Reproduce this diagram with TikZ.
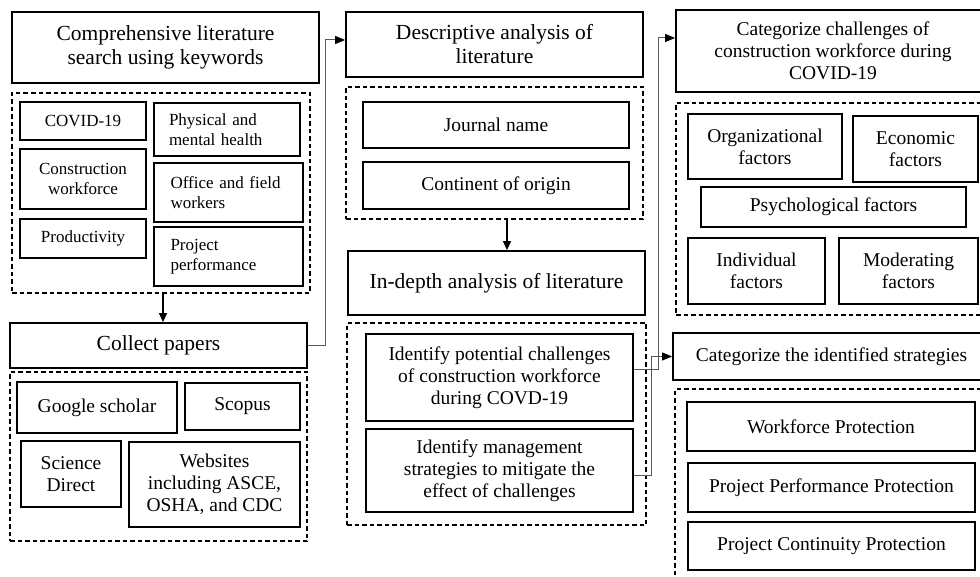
\documentclass[tikz,border=0pt]{standalone}
\usepackage{fontspec}
\setmainfont{Liberation Serif}
\usetikzlibrary{arrows.meta,calc}
\tikzset{
 box/.style={draw=black, line width=1.8pt, inner sep=0pt, align=center},
 grp/.style={draw=black, line width=1.4pt, dash pattern=on 4.5pt off 3pt, inner sep=0pt},
 ttl/.style={font=\fontsize{21.5}{24}\selectfont},
 txt/.style={font=\fontsize{19.5}{22}\selectfont},
 kw/.style={font=\fontsize{17}{20}\selectfont},
 kwl/.style={font=\fontsize{17}{20}\selectfont, text width=116pt, align=left},
 conn/.style={draw=black!65, line width=1pt, -{Triangle[length=10pt,width=8pt,black]}},
 down/.style={draw=black, line width=1.2pt, -{Triangle[length=9pt,width=8pt]}},
}
\newcommand\bx[7][]{\node[#1, anchor=center, minimum width={(#5-#3)*1pt}, minimum height={(#6-#4)*1pt}] (#2) at ({(#3+#5)/2},{-(#4+#6)/2}) {#7};}
\begin{document}
\begin{tikzpicture}[x=1pt,y=1pt]
\useasboundingbox (0,0) rectangle (980,-577);
\fill[white] (0,0) rectangle (980,-577);
\clip (0,0) rectangle (980,-577);
% left column
\bx[box,ttl]{search}{12}{12}{319}{83}{Comprehensive literature\\search using keywords}
\bx[grp]{kwbox}{12}{93}{310}{293}{}
\bx[box,kw]{covid}{20}{102}{146}{140}{COVID-19}
\bx[box,kw]{constr}{20}{149}{146}{209}{Construction\\workforce}
\bx[box,kw]{prod}{20}{219}{146}{258}{Productivity}
\bx[box,kwl]{phys}{154}{103}{300}{156}{Physical and\\mental health}
\bx[box,kwl]{office}{154}{163}{303}{222}{Office and field\\workers}
\bx[box,kwl]{projperf}{154}{227}{303}{286}{Project\\performance}
\bx[box,ttl]{collect}{10}{323}{307}{368}{Collect papers}
\bx[grp]{dbbox}{10}{372}{307}{541}{}
\bx[box,txt]{google}{17}{382}{177}{433}{Google scholar}
\bx[box,txt]{scopus}{185}{383}{300}{430}{Scopus}
\bx[box,txt]{science}{21}{441}{121}{507}{Science\\Direct}
\bx[box,txt]{websites}{129}{442}{300}{527}{Websites\\including ASCE,\\OSHA, and CDC}
% middle column
\bx[box,ttl]{desc}{346}{12}{643}{77}{Descriptive analysis of\\literature}
\bx[grp]{descbox}{346}{87}{643}{219}{}
\bx[box,txt]{journal}{363}{102}{629}{148}{Journal name}
\bx[box,txt]{continent}{363}{162}{629}{209}{Continent of origin}
\bx[box,ttl]{indepth}{348}{251}{645}{315}{In-depth analysis of literature}
\bx[grp]{inbox}{347}{323}{646}{525}{}
\bx[box,txt]{idchal}{366}{334}{633}{421}{Identify potential challenges\\of construction workforce\\during COVD-19}
\bx[box,txt]{idmgmt}{366}{429}{633}{512}{Identify management\\strategies to mitigate the\\effect of challenges}
% right column
\bx[box,txt]{catchal}{676}{10}{990}{92}{Categorize challenges of\\construction workforce during\\COVID-19}
\bx[grp]{chalbox}{676}{103}{1000}{315}{}
\bx[box,txt]{org}{688}{114}{842}{179}{Organizational\\factors}
\bx[box,txt]{econ}{853}{116}{978}{182}{Economic\\factors}
\bx[box,txt]{psych}{701}{187}{966}{227}{Psychological factors}
\bx[box,txt]{indiv}{688}{238}{825}{304}{Individual\\factors}
\bx[box,txt]{moder}{839}{238}{978}{304}{Moderating\\factors}
\bx[box,txt]{catstrat}{673}{333}{990}{380}{Categorize the identified strategies}
\bx[grp]{stratbox}{675}{389}{1000}{600}{}
\bx[box,txt]{workforce}{687}{402}{975}{451}{Workforce Protection}
\bx[box,txt]{perf}{688}{463}{975}{512}{Project Performance Protection}
\bx[box,txt]{continuity}{688}{522}{975}{570}{Project Continuity Protection}
% connectors
\draw[down] ([xshift=2pt]kwbox.south) -- ([xshift=2pt]kwbox.south |- collect.north);
\draw[down] ([xshift=12.5pt]descbox.south) -- ([xshift=12.5pt]descbox.south |- indepth.north);
\draw[conn] (collect.east) -- ++(18,0) |- ([yshift=4.5pt]desc.west);
\draw[conn] ([yshift=8.5pt]idchal.east) -- ++(25,0) |- ([yshift=13pt]catchal.west);
\draw[conn] ([yshift=-4.5pt]idmgmt.east) -- ++(18,0) |- (catstrat.west);
\end{tikzpicture}
\end{document}
